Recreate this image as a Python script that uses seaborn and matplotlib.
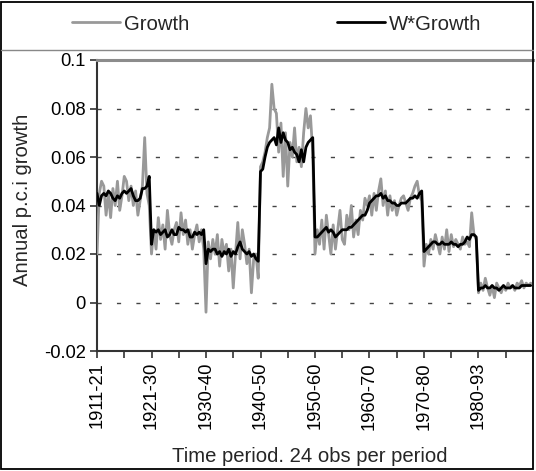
import numpy as np
import pandas as pd
import matplotlib
matplotlib.use("Agg")
import matplotlib.pyplot as plt
import seaborn as sns
from matplotlib.lines import Line2D
from matplotlib.patches import Rectangle

# ---------------- data ----------------
periods = ["1911-21", "1921-30", "1930-40", "1940-50", "1950-60", "1960-70", "1970-80", "1980-93"]
obs_per_period = 24

growth_p1 = [0.020, 0.045, 0.050, 0.048, 0.036, 0.045, 0.035, 0.047, 0.040, 0.050, 0.038, 0.044,
             0.052, 0.050, 0.042, 0.048, 0.040, 0.046, 0.036, 0.042, 0.048, 0.068, 0.045, 0.040]
growth_p2 = [0.020, 0.030, 0.022, 0.035, 0.026, 0.032, 0.022, 0.038, 0.028, 0.024, 0.030, 0.033,
             0.025, 0.037, 0.028, 0.034, 0.024, 0.030, 0.022, 0.028, 0.032, 0.025, 0.030, 0.022]
growth_p3 = [-0.004, 0.025, 0.018, 0.026, 0.020, 0.028, 0.015, 0.026, 0.020, 0.024, 0.013, 0.022,
             0.006, 0.020, 0.033, 0.018, 0.030, 0.024, 0.016, 0.022, 0.004, 0.018, 0.020, 0.010]
growth_p4 = [0.056, 0.058, 0.062, 0.068, 0.072, 0.090, 0.080, 0.078, 0.062, 0.074, 0.052, 0.070,
             0.048, 0.066, 0.060, 0.072, 0.058, 0.064, 0.056, 0.070, 0.080, 0.072, 0.077, 0.062]
growth_p5 = [0.020, 0.030, 0.024, 0.034, 0.022, 0.036, 0.028, 0.020, 0.032, 0.022, 0.030, 0.038,
             0.026, 0.024, 0.036, 0.030, 0.040, 0.027, 0.034, 0.028, 0.038, 0.034, 0.043, 0.040]
growth_p6 = [0.044, 0.036, 0.045, 0.038, 0.046, 0.051, 0.040, 0.046, 0.036, 0.044, 0.038, 0.042,
             0.036, 0.040, 0.043, 0.044, 0.041, 0.038, 0.043, 0.045, 0.048, 0.050, 0.044, 0.042]
growth_p7 = [0.015, 0.024, 0.020, 0.026, 0.022, 0.028, 0.024, 0.020, 0.027, 0.022, 0.030, 0.021,
             0.028, 0.023, 0.026, 0.024, 0.022, 0.027, 0.024, 0.025, 0.023, 0.037, 0.028, 0.026]
growth_p8 = [0.004, 0.008, 0.005, 0.010, 0.006, 0.003, 0.007, 0.002, 0.008, 0.006, 0.004, 0.007,
             0.005, 0.008, 0.006, 0.007, 0.005, 0.008, 0.007, 0.009, 0.006, 0.008, 0.007, 0.008]

wgrowth_p1 = [0.045, 0.040, 0.044, 0.045, 0.044, 0.046, 0.045, 0.043, 0.042, 0.044, 0.043, 0.045,
              0.046, 0.045, 0.046, 0.047, 0.044, 0.042, 0.042, 0.043, 0.047, 0.047, 0.048, 0.052]
wgrowth_p2 = [0.024, 0.030, 0.029, 0.030, 0.028, 0.029, 0.030, 0.027, 0.028, 0.030, 0.028, 0.028,
              0.031, 0.030, 0.030, 0.029, 0.030, 0.027, 0.027, 0.029, 0.028, 0.029, 0.028, 0.030]
wgrowth_p3 = [0.016, 0.022, 0.021, 0.022, 0.022, 0.020, 0.021, 0.019, 0.021, 0.020, 0.022, 0.019,
              0.021, 0.020, 0.023, 0.025, 0.022, 0.021, 0.020, 0.021, 0.019, 0.020, 0.018, 0.017]
wgrowth_p4 = [0.054, 0.055, 0.060, 0.064, 0.066, 0.067, 0.068, 0.065, 0.072, 0.066, 0.070, 0.067,
              0.066, 0.063, 0.064, 0.062, 0.061, 0.058, 0.063, 0.058, 0.064, 0.066, 0.067, 0.068]
wgrowth_p5 = [0.027, 0.027, 0.028, 0.029, 0.030, 0.031, 0.029, 0.030, 0.029, 0.027, 0.028, 0.029,
              0.030, 0.030, 0.030, 0.031, 0.031, 0.032, 0.033, 0.034, 0.035, 0.036, 0.036, 0.038]
wgrowth_p6 = [0.041, 0.042, 0.043, 0.044, 0.044, 0.045, 0.043, 0.044, 0.042, 0.042, 0.041, 0.041,
              0.040, 0.040, 0.041, 0.041, 0.041, 0.042, 0.043, 0.043, 0.044, 0.043, 0.045, 0.046]
wgrowth_p7 = [0.021, 0.022, 0.023, 0.024, 0.025, 0.025, 0.024, 0.024, 0.025, 0.024, 0.024, 0.024,
              0.025, 0.024, 0.024, 0.023, 0.024, 0.024, 0.025, 0.027, 0.026, 0.028, 0.028, 0.027]
wgrowth_p8 = [0.005, 0.006, 0.006, 0.007, 0.006, 0.006, 0.007, 0.006, 0.006, 0.005, 0.006, 0.007,
              0.006, 0.006, 0.006, 0.007, 0.006, 0.006, 0.006, 0.007, 0.007, 0.007, 0.007, 0.007]

ytick_values = [-0.02, 0.0, 0.02, 0.04, 0.06, 0.08, 0.1]
ytick_labels = ["-0.02", "0", "0.02", "0.04", "0.06", "0.08", "0.1"]

growth = (growth_p1 + growth_p2 + growth_p3 + growth_p4 +
          growth_p5 + growth_p6 + growth_p7 + growth_p8)
wgrowth = (wgrowth_p1 + wgrowth_p2 + wgrowth_p3 + wgrowth_p4 +
           wgrowth_p5 + wgrowth_p6 + wgrowth_p7 + wgrowth_p8)
n = len(growth)
df = pd.DataFrame({"obs": np.arange(n), "Growth": growth, "W*Growth": wgrowth})

# ---------------- style ----------------
sns.set_style("white")
plt.rcParams["font.family"] = ["Liberation Sans", "DejaVu Sans"]

W, H = 536, 471
fig = plt.figure(figsize=(W / 100, H / 100), dpi=100)
ax = fig.add_axes([97 / W, (H - 351) / H, (533 - 97) / W, (351 - 60) / H])

gray = "#999999"
sns.lineplot(data=df, x="obs", y="Growth", color=gray, lw=2.0, ax=ax, zorder=3)
sns.lineplot(data=df, x="obs", y="W*Growth", color="black", lw=2.0, ax=ax, zorder=4)

ax.set_xlim(0, n)
ax.set_ylim(-0.02, 0.1)

ax.set_yticks(ytick_values)
ax.set_yticklabels(ytick_labels)
major = np.arange(0, n, obs_per_period)
ax.set_xticks(major)
ax.set_xticklabels(periods, rotation=90)
ax.set_xticks(np.arange(obs_per_period // 2, n, obs_per_period), minor=True)

ax.tick_params(axis="both", which="both", direction="out", length=5, width=1.2,
               color="#333333", labelsize=13.2, labelcolor="black", pad=3)
ax.tick_params(axis="x", which="both", bottom=True)
ax.tick_params(axis="y", which="both", left=True)

ax.yaxis.grid(True, color="#444444", lw=1.0, ls=(0, (3, 11)))
ax.xaxis.grid(False)
ax.set_axisbelow(True)

for s in ["left", "bottom"]:
    ax.spines[s].set_color("#333333")
    ax.spines[s].set_linewidth(1.5)
ax.spines["top"].set_color("#8c8c8c")
ax.spines["top"].set_linewidth(2.2)
ax.spines["right"].set_visible(False)

ax.set_xlabel("Time period. 24 obs per period", fontsize=14.6)
ax.set_ylabel("Annual p.c.i growth", fontsize=14.6)
ax.xaxis.label.set_va("center")
ax.yaxis.label.set_va("center")
ax.xaxis.set_label_coords((310 - 97) / 436, (351 - 456) / 291)
ax.yaxis.set_label_coords((23 - 97) / 436, 0.5 - (200 - 205.5) / 291)

# legend at the top
handles = [Line2D([], [], color=gray, lw=2.0), Line2D([], [], color="black", lw=2.0)]
fig.legend(handles, ["Growth", "W*Growth"], loc="center",
           bbox_to_anchor=(277 / W, 1 - 24 / H), ncol=2, frameon=False,
           fontsize=14.6, handlelength=2.35, handletextpad=0.2, columnspacing=7.3)

# legend separator and outer frame
fig.add_artist(Line2D([1 / W, 533 / W], [1 - 50 / H, 1 - 50 / H],
                      transform=fig.transFigure, color="#888888", lw=1.0))
fig.add_artist(Rectangle((1 / W, 2 / H), 532 / W, 467 / H, transform=fig.transFigure,
                         fill=False, ec="black", lw=1.3))

fig.savefig("out.png", dpi=100)
